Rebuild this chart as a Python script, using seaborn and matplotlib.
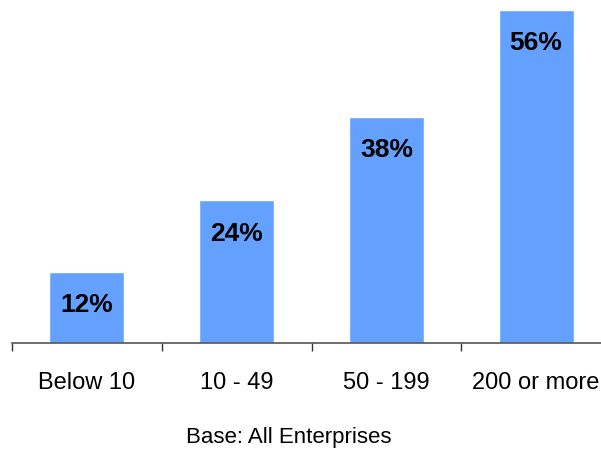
import matplotlib
matplotlib.use("Agg")
import matplotlib.pyplot as plt
import seaborn as sns
import pandas as pd

categories = ["Below 10", "10 - 49", "50 - 199", "200 or more"]
values = [12, 24, 38, 56]
labels = ["12%", "24%", "38%", "56%"]
footer = "Base: All Enterprises"

sns.set_style("white")
plt.rcParams['font.family'] = ['Liberation Sans', 'DejaVu Sans']
plt.rcParams['text.color'] = 'black'
plt.rcParams['xtick.color'] = 'black'

df = pd.DataFrame({"cat": categories, "val": values})

fig = plt.figure(figsize=(6.01, 4.53), dpi=100)
ax = fig.add_axes([12/601, 110/453, 599/601, 343/453])
sns.barplot(data=df, x="cat", y="val", color="#64A1FF", saturation=1, width=0.5, ax=ax)

ax.set_xlim(-0.5, 3.5)
ax.set_ylim(0, 57.7)
for s in ["top", "right", "left"]:
    ax.spines[s].set_visible(False)
ax.spines["bottom"].set_color("#555555")
ax.spines["bottom"].set_linewidth(1.2)
ax.set_yticks([])
ax.set_xlabel("")
ax.set_ylabel("")
ax.set_xticks([-0.5, 0.5, 1.5, 2.5, 3.5])
ax.set_xticklabels([])
ax.tick_params(axis="x", which="major", length=6, color="#333333", width=1, direction="out", bottom=True)
ax.set_xticks(range(len(categories)), minor=True)
ax.set_xticklabels(categories, minor=True, fontsize=17, color="black")
ax.tick_params(axis="x", which="minor", length=0, pad=21)

for i, (v, lab) in enumerate(zip(values, labels)):
    ax.text(i, v - 5.6, lab, ha="center", va="center", fontsize=19, fontweight="bold", color="black")

fig.text(289/601, 1 - 438/453, footer, ha="center", va="center", fontsize=16, color="black")

fig.savefig("out.png", dpi=100)
